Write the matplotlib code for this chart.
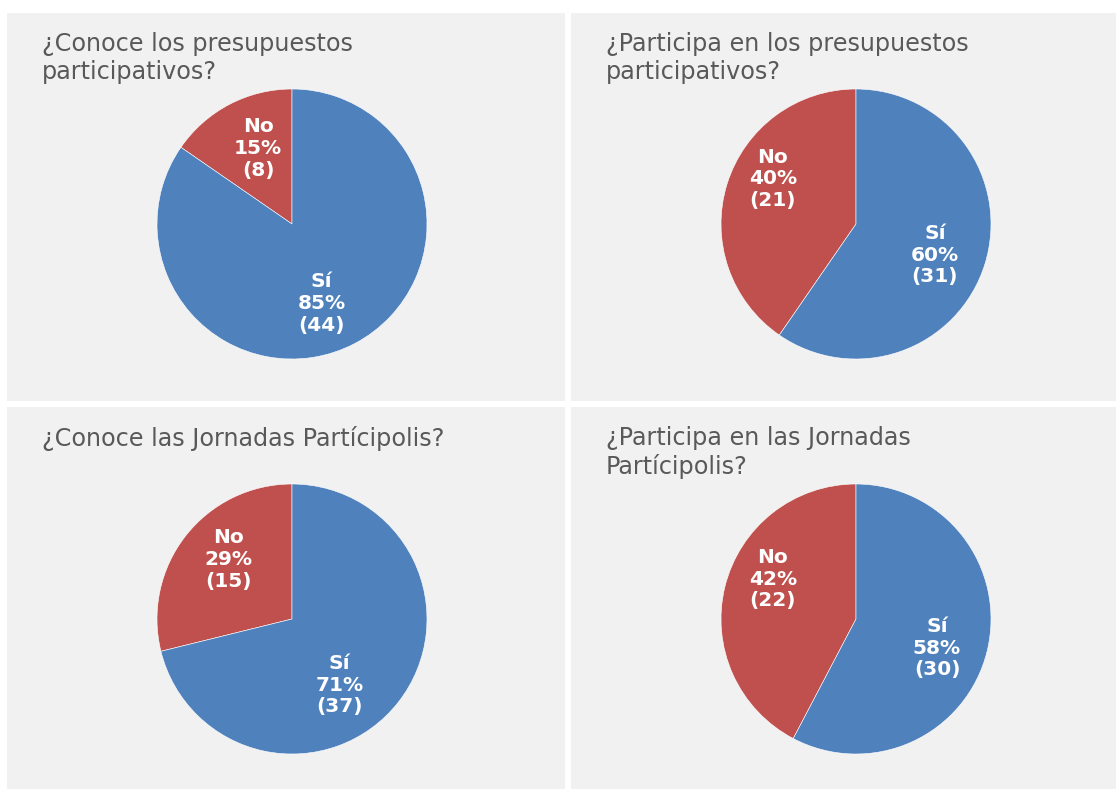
import matplotlib.pyplot as plt
from matplotlib.patches import Rectangle

W, H = 1116, 789

titles = [
    "¿Conoce los presupuestos\nparticipativos?",
    "¿Participa en los presupuestos\nparticipativos?",
    "¿Conoce las Jornadas Partícipolis?",
    "¿Participa en las Jornadas\nPartícipolis?",
]
categories = ["No", "Sí"]
no_counts = [8, 21, 15, 22]
si_counts = [44, 31, 37, 30]

colors = ["#C0504D", "#4F81BD"]
panel_bg = "#F1F1F1"
title_color = "#595959"

# panel boxes in pixels: (x0, y0, x1, y1), y from top
panels = [(7, 13, 565, 401), (571, 13, 1116, 401),
          (7, 407, 565, 789), (571, 407, 1116, 789)]
pie_centers = [(292, 224), (856, 224), (292, 619), (856, 619)]
radius = 135
# data-label placement inside each pie (radius units), [No, Sí] per panel
label_pos = [
    [(-0.25, 0.56), (0.22, -0.59)],
    [(-0.615, 0.335), (0.585, -0.23)],
    [(-0.47, 0.44), (0.35, -0.49)],
    [(-0.615, 0.295), (0.60, -0.215)],
]

fig = plt.figure(figsize=(W / 100, H / 100), dpi=100, facecolor="white")

for i, (x0, y0, x1, y1) in enumerate(panels):
    fig.add_artist(Rectangle((x0 / W, 1 - y1 / H), (x1 - x0) / W, (y1 - y0) / H,
                             transform=fig.transFigure, facecolor=panel_bg,
                             edgecolor="none", zorder=0))
    fig.text((x0 + 35) / W, 1 - (y0 + 19) / H, titles[i], ha="left", va="top",
             fontsize=17.2, color=title_color, linespacing=1.22)

    cx, cy = pie_centers[i]
    ax = fig.add_axes([(cx - radius) / W, 1 - (cy + radius) / H,
                       2 * radius / W, 2 * radius / H])
    vals = [no_counts[i], si_counts[i]]
    total = sum(vals)
    ax.pie(vals, colors=colors, startangle=90, counterclock=True,
           wedgeprops=dict(edgecolor="white", linewidth=0.4))
    for (lx, ly), cat, v in zip(label_pos[i], categories, vals):
        ax.text(lx, ly, f"{cat}\n{round(100 * v / total)}%\n({v})",
                ha="center", va="center", color="white", fontsize=14.5,
                fontweight="bold", linespacing=1.18)
    ax.set_xlim(-1, 1)
    ax.set_ylim(-1, 1)
    ax.set_aspect("equal")
    ax.axis("off")

fig.savefig("out.png", dpi=100, facecolor="white")
